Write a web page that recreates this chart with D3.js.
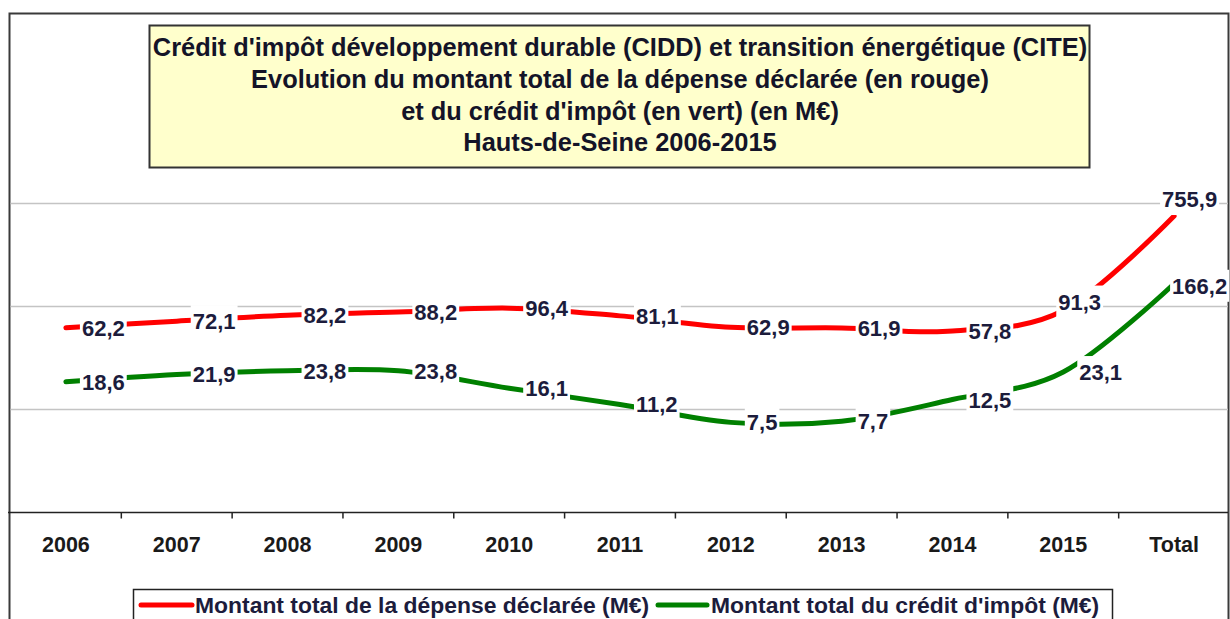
<!DOCTYPE html>
<html>
<head>
<meta charset="utf-8">
<script src="https://cdn.jsdelivr.net/npm/d3@7"></script>
<style>
body { margin: 0; background: #fff; }
svg { display: block; font-family: "Liberation Sans", Arial, sans-serif; }
</style>
</head>
<body>
<svg id="chart"></svg>
<script>
// données (M€)
const categories = ["2006", "2007", "2008", "2009", "2010", "2011", "2012", "2013", "2014", "2015", "Total"];
const depense = [62.2, 72.1, 82.2, 88.2, 96.4, 81.1, 62.9, 61.9, 57.8, 91.3, 755.9];
const credit = [18.6, 21.9, 23.8, 23.8, 16.1, 11.2, 7.5, 7.7, 12.5, 23.1, 166.2];
const gridValues = [10, 100, 1000];
const titleLines = [
    "Crédit d'impôt développement durable (CIDD) et transition énergétique (CITE)",
    "Evolution du montant total de la dépense déclarée (en rouge)",
    "et du crédit d'impôt (en vert) (en M€)",
    "Hauts-de-Seine 2006-2015"
];
const seriesNames = ["Montant total de la dépense déclarée (M€)", "Montant total du crédit d'impôt (M€)"];

const width = 1230;
const height = 619;
const plotLeft = 10.5, plotRight = 1229.5, plotTop = 203.5, plotBottom = 512.5;

const svg = d3.select("#chart")
    .attr("width", width)
    .attr("height", height);

const locale = d3.formatLocale({ decimal: ",", thousands: " ", grouping: [3], currency: ["", " €"] });
const fmt = locale.format(".1f");

const x = d3.scaleBand()
    .domain(categories)
    .range([plotLeft, plotRight])
    .paddingInner(0)
    .paddingOuter(0);
const cx = c => x(c) + x.bandwidth() / 2;

const y = d3.scaleLog()
    .domain([1, 1000])
    .range([plotBottom, plotTop]);

// cadre du graphique
svg.append("rect")
    .attr("x", 9.5).attr("y", 13.5)
    .attr("width", 1219).attr("height", 640)
    .attr("fill", "#fff")
    .attr("stroke", "#3a3a3a")
    .attr("stroke-width", 2);

// quadrillage
svg.selectAll(".grid")
    .data(gridValues)
    .enter()
    .append("line")
    .attr("x1", plotLeft).attr("x2", 1228)
    .attr("y1", d => y(d)).attr("y2", d => y(d))
    .attr("stroke", "#c4c4c4")
    .attr("stroke-width", 1.5);

// axe des abscisses
svg.append("line")
    .attr("x1", 8).attr("x2", 1228)
    .attr("y1", plotBottom).attr("y2", plotBottom)
    .attr("stroke", "#222")
    .attr("stroke-width", 1.5);

svg.selectAll(".tick-sep")
    .data(categories.slice(1))
    .enter()
    .append("line")
    .attr("x1", d => x(d)).attr("x2", d => x(d))
    .attr("y1", plotBottom).attr("y2", plotBottom + 6)
    .attr("stroke", "#222")
    .attr("stroke-width", 1.5);

const xAxis = svg.append("g")
    .attr("transform", `translate(0,${plotBottom})`)
    .call(d3.axisBottom(x).tickSize(0).tickPadding(0));
xAxis.select(".domain").remove();
xAxis.selectAll("text")
    .attr("y", 39.5)
    .attr("dy", null)
    .attr("font-family", "'Liberation Sans', Arial, sans-serif")
    .attr("font-size", "21.5px")
    .attr("font-weight", "bold")
    .attr("fill", "#1a1a1a");

// courbes lissées
const series = [
    { name: "depense", values: depense, color: "#ff0000" },
    { name: "credit", values: credit, color: "#008000" }
];

const line = d3.line()
    .x((d, i) => cx(categories[i]))
    .y(d => y(d))
    .curve(d3.curveCardinal.tension(0));

svg.selectAll(".serie")
    .data(series)
    .enter()
    .append("path")
    .attr("d", d => line(d.values))
    .attr("fill", "none")
    .attr("stroke", d => d.color)
    .attr("stroke-width", 5)
    .attr("stroke-linecap", "round");

// étiquettes de données (certaines déplacées à la main dans l'original)
const nudges = {
    "depense|2015": [-21, -9],
    "depense|Total": [-28, -17],
    "credit|Total": [-18, 2]
};

series.forEach(s => {
    s.values.forEach((v, i) => {
        const c = categories[i];
        const off = nudges[s.name + "|" + c] || [0, 0];
        const px = cx(c) + 16 + off[0];
        const py = y(v) + off[1];
        const g = svg.append("g");
        const t = g.append("text")
            .attr("x", px)
            .attr("y", py + 8)
            .attr("font-size", "22px")
            .attr("font-weight", "bold")
            .attr("fill", "#1c1c3c")
            .text(fmt(v));
        const bb = t.node().getBBox();
        g.insert("rect", "text")
            .attr("x", bb.x - 2)
            .attr("y", py - 16)
            .attr("width", bb.width + 4)
            .attr("height", 32)
            .attr("fill", "#fff");
    });
});

// titre
svg.append("rect")
    .attr("x", 149.5).attr("y", 25.5)
    .attr("width", 940).attr("height", 142)
    .attr("fill", "#ffffcc")
    .attr("stroke", "#333")
    .attr("stroke-width", 2);

svg.selectAll(".title")
    .data(titleLines)
    .enter()
    .append("text")
    .attr("x", 620)
    .attr("y", (d, i) => 56 + i * 31.8)
    .attr("text-anchor", "middle")
    .attr("font-size", "25.4px")
    .attr("font-weight", "bold")
    .attr("fill", "#141428")
    .text(d => d);

// légende
svg.append("rect")
    .attr("x", 133.5).attr("y", 589.5)
    .attr("width", 979).attr("height", 44)
    .attr("fill", "#fff")
    .attr("stroke", "#222")
    .attr("stroke-width", 1.5);

const legendX = [[141, 192, 195], [658, 707, 711]];
series.forEach((s, i) => {
    svg.append("line")
        .attr("x1", legendX[i][0]).attr("x2", legendX[i][1])
        .attr("y1", 605).attr("y2", 605)
        .attr("stroke", s.color)
        .attr("stroke-width", 5)
        .attr("stroke-linecap", "round");
    svg.append("text")
        .attr("x", legendX[i][2])
        .attr("y", 613)
        .attr("font-size", "22.9px")
        .attr("font-weight", "bold")
        .attr("fill", "#1c1c3c")
        .text(seriesNames[i]);
});
</script>
</body>
</html>
